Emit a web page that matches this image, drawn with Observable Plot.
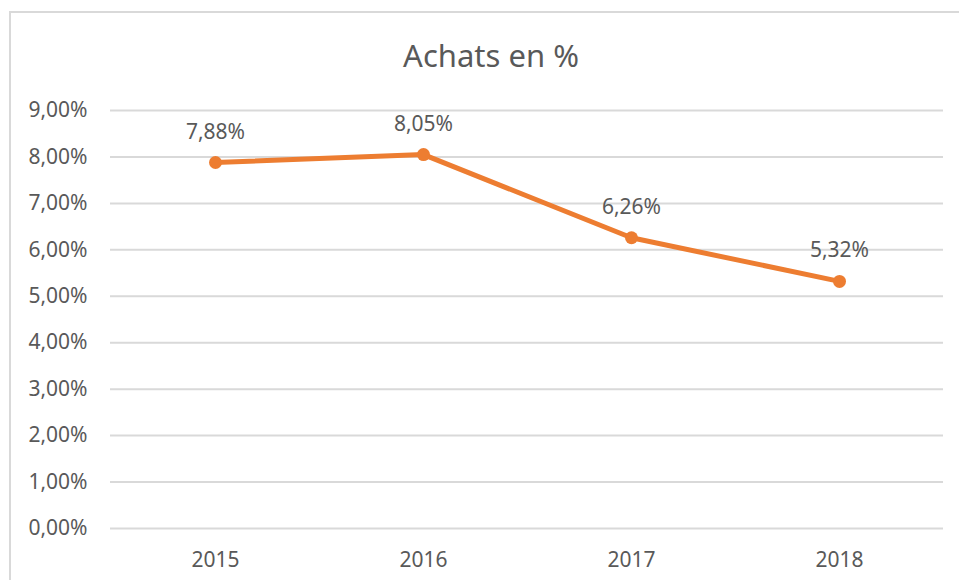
<!DOCTYPE html>
<html>
<head>
<meta charset="utf-8">
<script src="https://cdn.jsdelivr.net/npm/d3@7"></script>
<script src="https://cdn.jsdelivr.net/npm/@observablehq/plot@0.6"></script>
<style>
  html, body { margin: 0; padding: 0; background: #fff; }
  #wrap { position: relative; width: 959px; height: 580px; overflow: hidden; font-family: "Noto Sans", sans-serif; }
  #frame { position: absolute; left: 9px; top: 11px; width: 980px; height: 600px; border: 2px solid #d9d9d9; box-sizing: border-box; }
  #title { position: absolute; left: 0; width: 982px; top: 33px; text-align: center; font-size: 31px; color: #595959; line-height: 44px; }
  #chart { position: absolute; left: 0; top: 0; }
</style>
</head>
<body>
<div id="wrap">
  <div id="frame"></div>
  <div id="title">Achats en %</div>
  <div id="chart"></div>
</div>
<script>
const years = ["2015", "2016", "2017", "2018"];
const values = [7.88, 8.05, 6.26, 5.32];
const yTicks = [0, 1, 2, 3, 4, 5, 6, 7, 8, 9];

const fmt = v => v.toFixed(2).replace(".", ",") + "%";
const data = years.map((y, i) => ({year: y, value: values[i]}));

const plot = Plot.plot({
  width: 959,
  height: 580,
  marginLeft: 110,
  marginRight: 16,
  marginTop: 110,
  marginBottom: 52,
  style: {fontFamily: "Noto Sans, sans-serif", fontSize: "21px", color: "#595959", background: "transparent"},
  x: {type: "point", domain: years, padding: 0.5, label: null},
  y: {domain: [0, 9], label: null},
  marks: [
    Plot.gridY(yTicks, {stroke: "#d9d9d9", strokeOpacity: 1, strokeWidth: 2}),
    Plot.axisY(yTicks, {tickSize: 0, tickPadding: 23, tickFormat: fmt, fill: "#595959", fontSize: 21, label: null}),
    Plot.axisX({tickSize: 0, tickPadding: 24, fill: "#595959", fontSize: 21, label: null}),
    Plot.line(data, {x: "year", y: "value", stroke: "#ED7D31", strokeWidth: 5}),
    Plot.dot(data, {x: "year", y: "value", fill: "#ED7D31", r: 6.5}),
    Plot.text(data, {x: "year", y: "value", text: d => fmt(d.value), lineAnchor: "bottom", dy: -24, fill: "#595959", fontSize: 21})
  ]
});
document.getElementById("chart").appendChild(plot);
</script>
</body>
</html>
